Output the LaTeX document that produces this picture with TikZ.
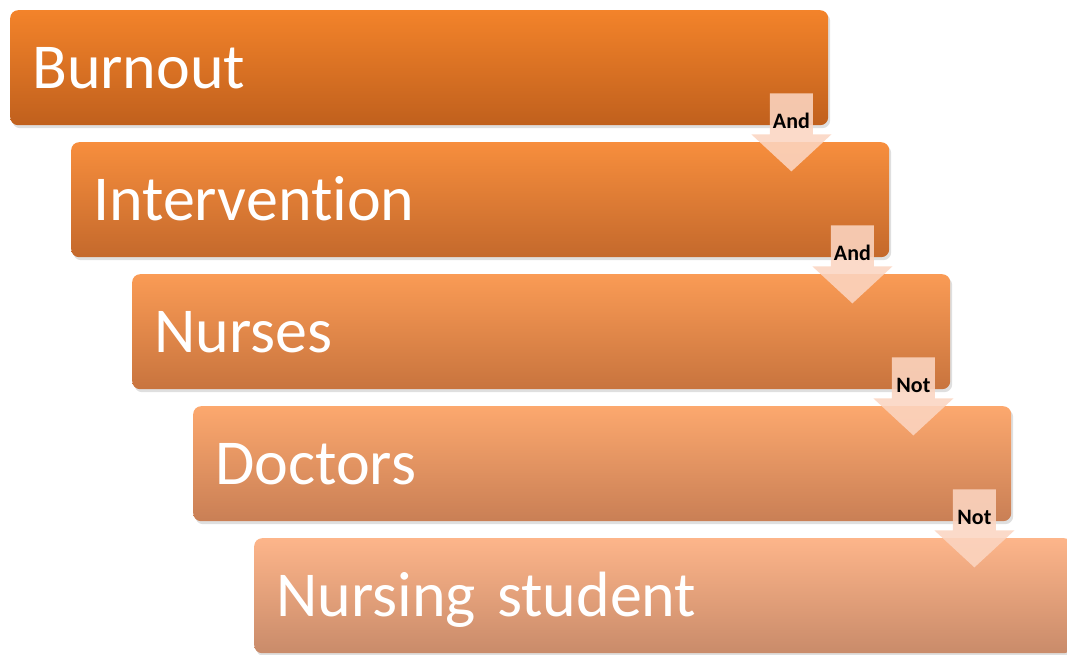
\documentclass[tikz,border=0pt]{standalone}
\usepackage{fontspec}
\setmainfont[RawFeature={-liga;-dlig;-clig}]{Carlito}
\usepackage{tikz}
\usetikzlibrary{positioning}
\usetikzlibrary{shadows}
\usepackage{xcolor}
\definecolor{boxatop}{RGB}{243,131,42}
\definecolor{boxabot}{RGB}{192,96,29}
\definecolor{boxbtop}{RGB}{247,142,61}
\definecolor{boxbbot}{RGB}{196,105,44}
\definecolor{boxctop}{RGB}{250,155,85}
\definecolor{boxcbot}{RGB}{200,116,62}
\definecolor{boxdtop}{RGB}{252,168,110}
\definecolor{boxdbot}{RGB}{201,127,85}
\definecolor{boxetop}{RGB}{253,181,138}
\definecolor{boxebot}{RGB}{201,139,106}
\definecolor{peach}{RGB}{251,213,193}

\tikzset{
  stepbox/.style={draw=none, rounded corners=8pt, anchor=north west,
    minimum width=818pt, minimum height=115pt, text width=774pt,
    inner xsep=22pt, align=left, text=white,
    font=\fontsize{64}{72}\selectfont, text height=41pt, text depth=0pt,
    drop shadow={shadow xshift=2pt, shadow yshift=-3pt, opacity=0.25}},
  joinarrow/.style={fill=peach, fill opacity=0.88},
  joinlabel/.style={font=\bfseries\fontsize{22}{26}\selectfont,
    inner sep=0pt, text height=14pt, text depth=0pt}
}

\begin{document}
\begin{tikzpicture}[x=1pt,y=-1pt]

\useasboundingbox (0,0) rectangle (1067,655);

% search terms
\node[stepbox, top color=boxatop, bottom color=boxabot] (burnout) at (10,10) {Burnout};
\node[stepbox, top color=boxbtop, bottom color=boxbbot] (intervention)
  at ([shift={(61,132)}]burnout.north west) {Intervention};
\node[stepbox, top color=boxctop, bottom color=boxcbot] (nurses)
  at ([shift={(61,132)}]intervention.north west) {Nurses};
\node[stepbox, top color=boxdtop, bottom color=boxdbot] (doctors)
  at ([shift={(61,132)}]nurses.north west) {Doctors};
\node[stepbox, top color=boxetop, bottom color=boxebot] (nstudent)
  at ([shift={(61,132)}]doctors.north west) {Nursing student};

% operators between the terms
\coordinate (andone) at ([shift={(-37,0)}]burnout.south east);
\coordinate (andtwo) at ([shift={(-37,0)}]intervention.south east);
\coordinate (notone) at ([shift={(-37,0)}]nurses.south east);
\coordinate (nottwo) at ([shift={(-37,0)}]doctors.south east);

\fill[joinarrow] ([shift={(-21.5,-32)}]andone) -- ++(43,0) -- ++(0,41) -- ++(18.5,0)
  -- ++(-40,37) -- ++(-40,-37) -- ++(18.5,0) -- cycle;
\fill[joinarrow] ([shift={(-21.5,-32)}]andtwo) -- ++(43,0) -- ++(0,41) -- ++(18.5,0)
  -- ++(-40,37) -- ++(-40,-37) -- ++(18.5,0) -- cycle;
\fill[joinarrow] ([shift={(-21.5,-32)}]notone) -- ++(43,0) -- ++(0,41) -- ++(18.5,0)
  -- ++(-40,37) -- ++(-40,-37) -- ++(18.5,0) -- cycle;
\fill[joinarrow] ([shift={(-21.5,-32)}]nottwo) -- ++(43,0) -- ++(0,41) -- ++(18.5,0)
  -- ++(-40,37) -- ++(-40,-37) -- ++(18.5,0) -- cycle;

\node[joinlabel] (andonetext) at ([shift={(0,-3.5)}]andone) {And};
\node[joinlabel] (andtwotext) at ([shift={(0,-3.5)}]andtwo) {And};
\node[joinlabel] (notonetext) at ([shift={(0,-3.5)}]notone) {Not};
\node[joinlabel] (nottwotext) at ([shift={(0,-3.5)}]nottwo) {Not};

\end{tikzpicture}
\end{document}
